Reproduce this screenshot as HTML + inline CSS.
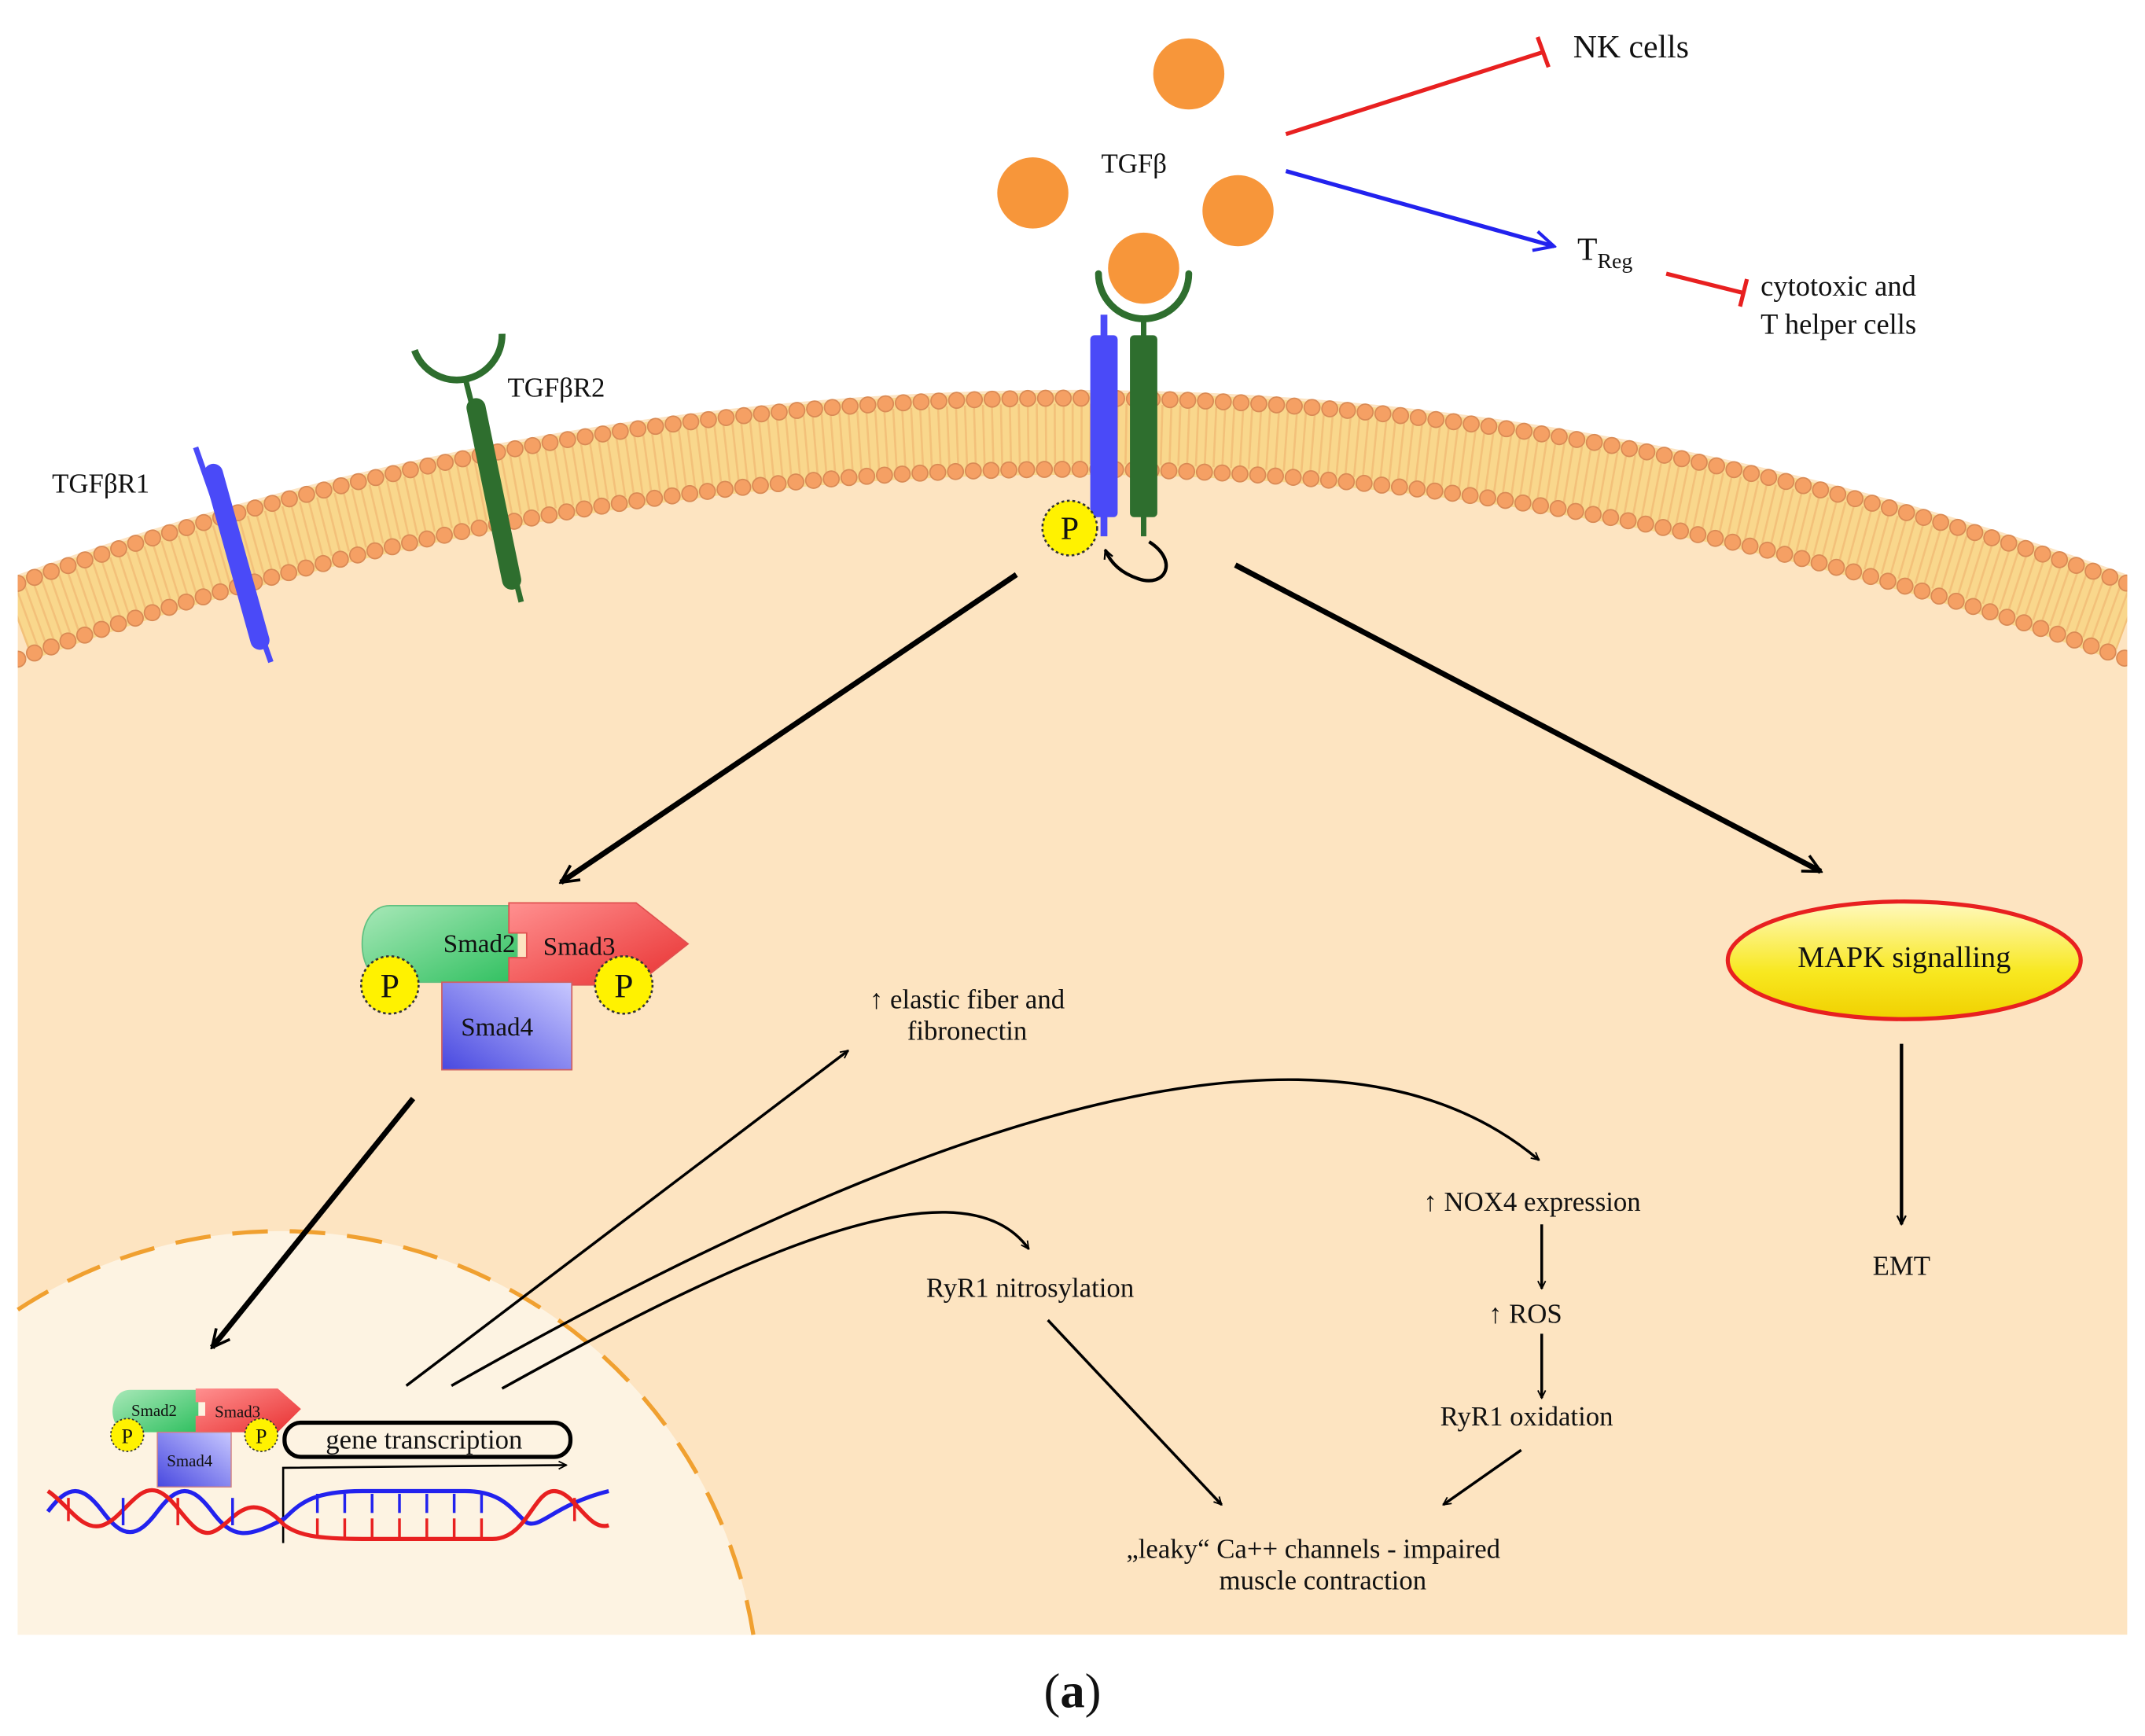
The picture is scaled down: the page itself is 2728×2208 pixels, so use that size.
<!DOCTYPE html>
<html><head><meta charset="utf-8"><style>html,body{margin:0;padding:0;background:#fff;width:2728px;height:2208px;overflow:hidden}svg{display:block}text{font-family:"Liberation Serif","DejaVu Serif",serif;fill:#111}</style></head>
<body>
<svg width="2728" height="2208" viewBox="0 0 1568 1269" xmlns="http://www.w3.org/2000/svg" font-family="Liberation Serif, serif">
<defs>
<clipPath id="mc"><rect x="13" y="250" width="1542" height="300"/></clipPath>
<marker id="ah" viewBox="0 0 10 10" refX="9" refY="5" markerWidth="7" markerHeight="7" orient="auto" markerUnits="userSpaceOnUse"><path d="M1,1 L9,5 L1,9" fill="none" stroke="#000" stroke-width="1.5"/></marker>
<marker id="ahs" viewBox="0 0 10 10" refX="9" refY="5" markerWidth="16" markerHeight="16" orient="auto" markerUnits="userSpaceOnUse"><path d="M1,1 L9,5 L1,9" fill="none" stroke="#000" stroke-width="1.3"/></marker>
<marker id="ahb" viewBox="0 0 10 10" refX="9" refY="5" markerWidth="18" markerHeight="18" orient="auto" markerUnits="userSpaceOnUse"><path d="M1,1 L9,5 L1,9" fill="none" stroke="#2222ee" stroke-width="1.3"/></marker>
<marker id="ahk" viewBox="0 0 10 10" refX="9" refY="5" markerWidth="8" markerHeight="8" orient="auto" markerUnits="userSpaceOnUse"><path d="M1,1 L9,5 L1,9" fill="none" stroke="#000" stroke-width="1.6"/></marker>
<linearGradient id="yel" x1="0" y1="0" x2="0" y2="1"><stop offset="0" stop-color="#fff9c0"/><stop offset="0.6" stop-color="#f8e820"/><stop offset="1" stop-color="#f0d000"/></linearGradient>
<linearGradient id="grn" x1="0" y1="0" x2="1" y2="1"><stop offset="0" stop-color="#a8e8b8"/><stop offset="1" stop-color="#30c060"/></linearGradient>
<linearGradient id="red" x1="0" y1="0" x2="1" y2="1"><stop offset="0" stop-color="#ff9090"/><stop offset="1" stop-color="#e83030"/></linearGradient>
<linearGradient id="blu" x1="1" y1="0" x2="0" y2="1"><stop offset="0" stop-color="#c8c8ff"/><stop offset="1" stop-color="#4848e0"/></linearGradient>
</defs>
<path d="M13,420 A2269 2269 0 0 1 1555,420 L1555,1195 L13,1195 Z" fill="#fde4c1"/>
<g clip-path="url(#mc)">
<path d="M13,454.1 A2237 2237 0 0 1 1555,454.1" fill="none" stroke="#f9d78c" stroke-width="60"/>
<path d="M13,454.1 A2237 2237 0 0 1 1555,454.1" fill="none" stroke="#eeb26e" stroke-width="44" stroke-dasharray="1.5 5" opacity="0.6"/>
<path d="M13,426.4 A2263 2263 0 0 1 1555,426.4" fill="none" stroke="#d98a55" stroke-width="12.5" stroke-dasharray="0 13" stroke-linecap="round"/>
<path d="M13,426.4 A2263 2263 0 0 1 1555,426.4" fill="none" stroke="#f5a064" stroke-width="10.5" stroke-dasharray="0 13" stroke-linecap="round"/>
<path d="M13,481.8 A2211 2211 0 0 1 1555,481.8" fill="none" stroke="#d98a55" stroke-width="12.5" stroke-dasharray="0 13" stroke-linecap="round"/>
<path d="M13,481.8 A2211 2211 0 0 1 1555,481.8" fill="none" stroke="#f5a064" stroke-width="10.5" stroke-dasharray="0 13" stroke-linecap="round"/>
</g>
<path d="M13,957.4 A350 350 0 0 1 550.7,1195 L13,1195 Z" fill="#fdf3e2"/>
<path d="M13,957.4 A350 350 0 0 1 550.7,1195" fill="none" stroke="#f0a030" stroke-width="3" stroke-dasharray="26 16"/>
<!-- TGFbR1 -->
<line x1="143" y1="327" x2="198" y2="484" stroke="#4a4af8" stroke-width="4"/>
<line x1="156" y1="346" x2="190" y2="468" stroke="#4a4af8" stroke-width="14" stroke-linecap="round"/>
<text x="38" y="360" font-size="20">TGFβR1</text>
<!-- TGFbR2 -->
<path d="M303,256 A33,33 0 0 0 367,244" fill="none" stroke="#2e6e2e" stroke-width="5"/>
<line x1="340" y1="276" x2="381" y2="440" stroke="#2e6e2e" stroke-width="4"/>
<line x1="348" y1="298" x2="374" y2="424" stroke="#2e6e2e" stroke-width="14" stroke-linecap="round"/>
<text x="371" y="290" font-size="20">TGFβR2</text>
<!-- active complex -->
<circle cx="869" cy="54" r="26" fill="#f7963a"/>
<circle cx="755" cy="141" r="26" fill="#f7963a"/>
<circle cx="905" cy="154" r="26" fill="#f7963a"/>
<text x="805" y="126" font-size="20">TGFβ</text>
<circle cx="836" cy="196" r="26" fill="#f7963a"/>
<path d="M803,200 A33,33 0 0 0 869,200" fill="none" stroke="#2e6e2e" stroke-width="5" stroke-linecap="round"/>
<line x1="836" y1="232" x2="836" y2="392" stroke="#2e6e2e" stroke-width="4"/>
<rect x="826" y="245" width="20" height="133" rx="3" fill="#2e6e2e"/>
<line x1="807" y1="230" x2="807" y2="392" stroke="#4a4af8" stroke-width="5"/>
<rect x="797" y="245" width="20" height="133" rx="3" fill="#4a4af8"/>
<circle cx="782" cy="386" r="20" fill="#fff200" stroke="#333" stroke-width="1.5" stroke-dasharray="2 2"/>
<text x="782" y="394" font-size="24" text-anchor="middle" font-family="Liberation Sans, sans-serif">P</text>
<path d="M840,396 C862,410 852,430 832,423 C820,419 812,412 808,402" fill="none" stroke="#000" stroke-width="2.5" marker-end="url(#ahk)"/>
<!-- immune -->
<line x1="940" y1="98" x2="1128" y2="38" stroke="#e82020" stroke-width="3"/>
<line x1="1124" y1="27" x2="1132" y2="49" stroke="#e82020" stroke-width="3"/>
<text x="1150" y="42" font-size="24">NK cells</text>
<line x1="940" y1="125" x2="1136" y2="180" stroke="#2222ee" stroke-width="3" marker-end="url(#ahb)"/>
<text x="1153" y="190" font-size="24">T<tspan font-size="16" dy="6">Reg</tspan></text>
<line x1="1218" y1="200" x2="1274" y2="214" stroke="#e82020" stroke-width="3"/>
<line x1="1277" y1="204" x2="1272" y2="224" stroke="#e82020" stroke-width="3"/>
<text x="1287" y="216" font-size="21">cytotoxic and</text>
<text x="1287" y="244" font-size="21">T helper cells</text>
<!-- big arrows -->
<line x1="743" y1="420" x2="410" y2="645" stroke="#000" stroke-width="4" marker-end="url(#ahs)"/>
<line x1="903" y1="413" x2="1331" y2="637" stroke="#000" stroke-width="4" marker-end="url(#ahs)"/>
<!-- Smad complex -->
<path d="M285,662 L378,662 L378,718 L285,718 C258,718 258,662 285,662 Z" fill="url(#grn)" stroke="#60c080"/>
<path d="M372,660 L465,660 L503,690 L465,720 L372,720 L372,700 L385,700 L385,682 L372,682 Z" fill="url(#red)" stroke="#e05050"/>
<rect x="323" y="718" width="95" height="64" fill="url(#blu)" stroke="#d06060"/>
<text x="324" y="696" font-size="19">Smad2</text>
<text x="397" y="698" font-size="19">Smad3</text>
<text x="337" y="757" font-size="19">Smad4</text>
<circle cx="285" cy="720" r="21" fill="#fff200" stroke="#333" stroke-width="1.5" stroke-dasharray="2 2"/>
<text x="285" y="729" font-size="25" text-anchor="middle" font-family="Liberation Sans, sans-serif">P</text>
<circle cx="456" cy="720" r="21" fill="#fff200" stroke="#333" stroke-width="1.5" stroke-dasharray="2 2"/>
<text x="456" y="729" font-size="25" text-anchor="middle" font-family="Liberation Sans, sans-serif">P</text>
<line x1="302" y1="803" x2="155" y2="985" stroke="#000" stroke-width="4" marker-end="url(#ahs)"/>
<!-- MAPK -->
<ellipse cx="1392" cy="702" rx="129" ry="43" fill="url(#yel)" stroke="#e82020" stroke-width="3"/>
<text x="1392" y="707" font-size="22" text-anchor="middle">MAPK signalling</text>
<line x1="1390" y1="763" x2="1390" y2="895" stroke="#000" stroke-width="2.5" marker-end="url(#ahk)"/>
<text x="1390" y="932" font-size="20" text-anchor="middle">EMT</text>
<!-- nucleus small smad -->
<path d="M95,1016 L145,1016 L145,1047 L95,1047 C78,1047 78,1016 95,1016 Z" fill="url(#grn)"/>
<path d="M143,1015 L203,1015 L220,1030 L203,1047 L143,1047 L143,1035 L150,1035 L150,1025 L143,1025 Z" fill="url(#red)"/>
<rect x="115" y="1047" width="54" height="40" fill="url(#blu)" stroke="#d08080" stroke-width="0.8"/>
<text x="96" y="1035" font-size="12">Smad2</text>
<text x="157" y="1036" font-size="12">Smad3</text>
<text x="122" y="1072" font-size="12">Smad4</text>
<circle cx="93" cy="1049" r="12" fill="#fff200" stroke="#333" stroke-dasharray="1.5 1.5"/>
<text x="93" y="1055" font-size="15" text-anchor="middle" font-family="Liberation Sans, sans-serif">P</text>
<circle cx="191" cy="1049" r="12" fill="#fff200" stroke="#333" stroke-dasharray="1.5 1.5"/>
<text x="191" y="1055" font-size="15" text-anchor="middle" font-family="Liberation Sans, sans-serif">P</text>
<rect x="208" y="1040" width="209" height="25" rx="12" fill="none" stroke="#000" stroke-width="3"/>
<text x="310" y="1059" font-size="20" text-anchor="middle">gene transcription</text>
<polyline points="207,1128 207,1073 414,1071" fill="none" stroke="#000" stroke-width="1.5" marker-end="url(#ah)"/>
<!-- DNA -->
<g fill="none" stroke-width="3">
<path d="M35,1105 C50,1085 60,1085 75,1105 S100,1125 115,1105 S140,1085 155,1105 S180,1125 208,1110 C220,1098 230,1090 265,1090 L340,1090 C368,1090 375,1105 385,1113 C395,1118 405,1100 445,1090" stroke="#2222ee"/>
<path d="M35,1090 C50,1100 60,1120 75,1115 S100,1085 115,1090 S140,1125 155,1120 S180,1085 208,1115 C218,1122 230,1125 265,1125 L360,1125 C385,1125 390,1090 405,1090 C420,1090 430,1120 445,1115" stroke="#e82020"/>
</g>
<g stroke-width="2">
<line x1="50" y1="1095" x2="50" y2="1112" stroke="#e82020"/><line x1="90" y1="1095" x2="90" y2="1115" stroke="#2222ee"/><line x1="130" y1="1095" x2="130" y2="1115" stroke="#e82020"/><line x1="170" y1="1095" x2="170" y2="1115" stroke="#2222ee"/>
<line x1="232" y1="1092" x2="232" y2="1106" stroke="#2222ee"/><line x1="232" y1="1110" x2="232" y2="1124" stroke="#e82020"/>
<line x1="252" y1="1092" x2="252" y2="1106" stroke="#2222ee"/><line x1="252" y1="1110" x2="252" y2="1124" stroke="#e82020"/>
<line x1="272" y1="1092" x2="272" y2="1106" stroke="#2222ee"/><line x1="272" y1="1110" x2="272" y2="1124" stroke="#e82020"/>
<line x1="292" y1="1092" x2="292" y2="1106" stroke="#2222ee"/><line x1="292" y1="1110" x2="292" y2="1124" stroke="#e82020"/>
<line x1="312" y1="1092" x2="312" y2="1106" stroke="#2222ee"/><line x1="312" y1="1110" x2="312" y2="1124" stroke="#e82020"/>
<line x1="332" y1="1092" x2="332" y2="1106" stroke="#2222ee"/><line x1="332" y1="1110" x2="332" y2="1124" stroke="#e82020"/>
<line x1="352" y1="1092" x2="352" y2="1106" stroke="#2222ee"/><line x1="352" y1="1110" x2="352" y2="1124" stroke="#e82020"/>
<line x1="420" y1="1095" x2="420" y2="1112" stroke="#e82020"/>
</g>
<!-- nucleus outputs -->
<line x1="297" y1="1013" x2="620" y2="768" stroke="#000" stroke-width="2" marker-end="url(#ah)"/>
<text x="707" y="737" font-size="20" text-anchor="middle">↑ elastic fiber and</text>
<text x="707" y="760" font-size="20" text-anchor="middle">fibronectin</text>
<path d="M330,1013 C600,860 950,700 1125,848" fill="none" stroke="#000" stroke-width="2" marker-end="url(#ah)"/>
<path d="M367,1015 C520,930 700,840 752,913" fill="none" stroke="#000" stroke-width="2" marker-end="url(#ah)"/>
<text x="753" y="948" font-size="20" text-anchor="middle">RyR1 nitrosylation</text>
<text x="1120" y="885" font-size="20" text-anchor="middle">↑ NOX4 expression</text>
<line x1="1127" y1="895" x2="1127" y2="942" stroke="#000" stroke-width="2" marker-end="url(#ah)"/>
<text x="1115" y="967" font-size="20" text-anchor="middle">↑ ROS</text>
<line x1="1127" y1="975" x2="1127" y2="1022" stroke="#000" stroke-width="2" marker-end="url(#ah)"/>
<text x="1116" y="1042" font-size="20" text-anchor="middle">RyR1 oxidation</text>
<line x1="1112" y1="1060" x2="1055" y2="1100" stroke="#000" stroke-width="2" marker-end="url(#ah)"/>
<line x1="766" y1="965" x2="893" y2="1100" stroke="#000" stroke-width="2" marker-end="url(#ah)"/>
<text x="960" y="1139" font-size="20" text-anchor="middle">„leaky“ Ca++ channels - impaired</text>
<text x="967" y="1162" font-size="20" text-anchor="middle">muscle contraction</text>
<text x="784" y="1248" font-size="36" text-anchor="middle">(<tspan font-weight="bold">a</tspan>)</text>
</svg>
</body></html>
